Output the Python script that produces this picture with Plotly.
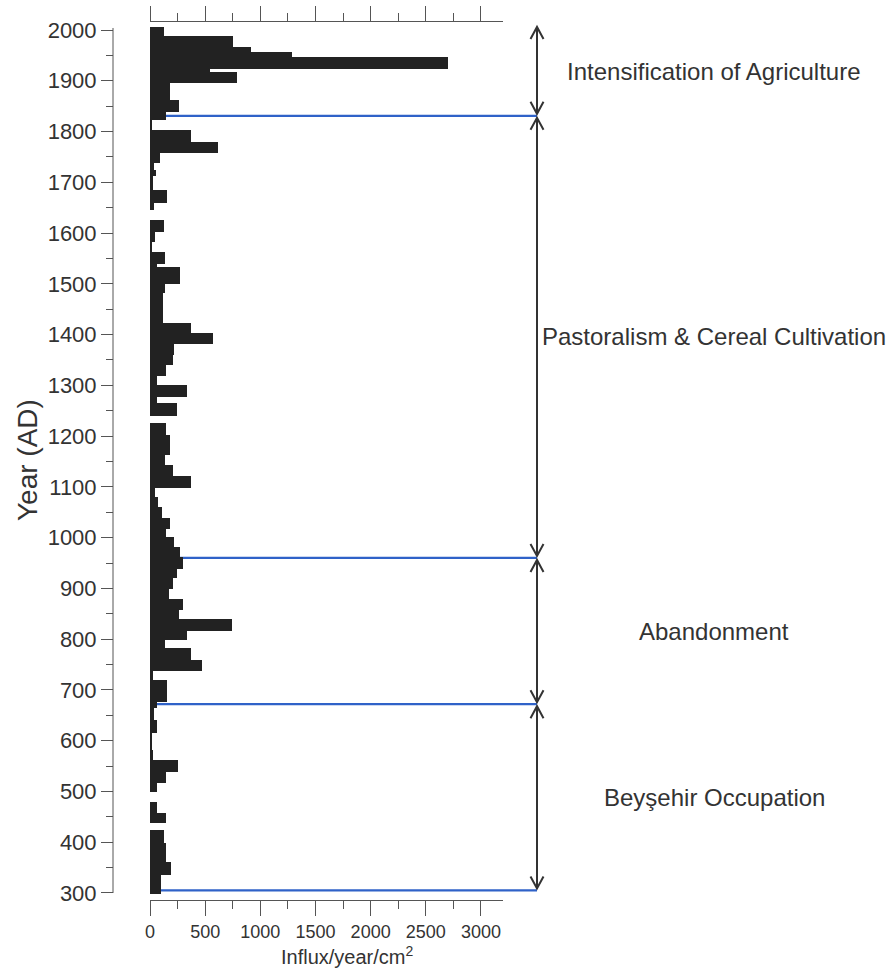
import plotly.graph_objects as go

# ---------------- data ----------------
# bin edges (years AD, from top to bottom) and influx values for each bin
bin_edges = [2006, 1988, 1966, 1956, 1946, 1924, 1918, 1895, 1862, 1839,
             1823, 1803, 1780, 1758, 1739, 1724, 1712, 1701, 1685, 1660,
             1645, 1626, 1603, 1583, 1563, 1540, 1534, 1500, 1481, 1422,
             1404, 1381, 1360, 1340, 1318, 1301, 1278, 1265, 1240, 1225,
             1202, 1163, 1143, 1121, 1097, 1081, 1061, 1038, 1018, 1002,
             982, 962, 939, 920, 898, 880, 857, 839, 817, 798,
             782, 759, 738, 720, 677, 664, 641, 615, 582, 562,
             539, 516, 499, 480, 457, 437, 424, 398, 362, 335, 299]
influx = [127, 755, 912, 1284, 2703, 544, 791, 181, 266, 145,
          20, 368, 619, 91, 36, 55, 30, 25, 151, 36,
          0, 127, 45, 20, 136, 60, 272, 136, 120, 368,
          574, 217, 205, 145, 66, 338, 60, 248, 0, 145,
          178, 136, 211, 368, 45, 75, 106, 181, 145, 217,
          272, 302, 248, 211, 175, 296, 266, 740, 332, 136,
          368, 468, 30, 151, 60, 36, 66, 10, 30, 257,
          145, 60, 0, 60, 145, 0, 127, 145, 187, 97]

period_names = ["Intensification of Agriculture",
                "Pastoralism & Cereal Cultivation",
                "Abandonment",
                "Beyşehir Occupation"]
period_bounds = [2006, 1831, 960, 672, 305]

y_ticks = list(range(300, 2001, 100))
x_ticks = list(range(0, 3001, 500))

# ---------------- layout geometry ----------------
W, H = 891, 980
ML, MR, MT, MB = 113, 388, 22, 80
PW = W - ML - MR            # paper width in px
PH = H - MT - MB
X_DOM0 = (150 - ML) / PW    # where x=0 lies
Y_RANGE = [286.2, 2015.8]
PX_PER_YEAR = PH / (Y_RANGE[1] - Y_RANGE[0])

def px_to_paper_x(px):
    return (px - ML) / PW

def px_to_paper_y(py):
    return (H - MB - py) / PH

ARROW_X = px_to_paper_x(537)
TEXT_X = px_to_paper_x(714)

text_col = "#333333"
axis_col = "#555555"
FONT = "Arial, 'Liberation Sans', sans-serif"

mids = [(bin_edges[i] + bin_edges[i + 1]) / 2 for i in range(len(influx))]
widths = [bin_edges[i] - bin_edges[i + 1] for i in range(len(influx))]

fig = go.Figure()
fig.add_trace(go.Bar(
    orientation="h", y=mids, x=influx, width=widths,
    marker=dict(color="#222222", line=dict(width=0)),
    showlegend=False, hoverinfo="x+y"))

shapes = []
# y axis line
shapes.append(dict(type="line", xref="paper", yref="y", x0=0, x1=0,
                   y0=300, y1=2004, line=dict(color=axis_col, width=1)))
# blue boundary lines
for b in period_bounds[1:]:
    shapes.append(dict(type="line", xref="paper", yref="y",
                       x0=X_DOM0, x1=ARROW_X, y0=b, y1=b,
                       line=dict(color="#2f62c8", width=2.2), layer="below"))
# double-headed arrows
head_h = 12 / PX_PER_YEAR
head_w = 6.5 / PW
gap = 2 / PX_PER_YEAR
for i in range(len(period_names)):
    top = period_bounds[i] - (gap if i > 0 else 0)
    bot = period_bounds[i + 1] + gap
    shapes.append(dict(type="line", xref="paper", yref="y", x0=ARROW_X, x1=ARROW_X,
                       y0=top, y1=bot, line=dict(color=text_col, width=2)))
    shapes.append(dict(type="path", xref="paper", yref="y",
                       path=f"M {ARROW_X-head_w},{top-head_h} L {ARROW_X},{top} L {ARROW_X+head_w},{top-head_h}",
                       line=dict(color=text_col, width=2)))
    shapes.append(dict(type="path", xref="paper", yref="y",
                       path=f"M {ARROW_X-head_w},{bot+head_h} L {ARROW_X},{bot} L {ARROW_X+head_w},{bot+head_h}",
                       line=dict(color=text_col, width=2)))

annotations = []
for i, name in enumerate(period_names):
    annotations.append(dict(text=name, xref="paper", yref="y", x=TEXT_X,
                            y=(period_bounds[i] + period_bounds[i + 1]) / 2,
                            xanchor="center", yanchor="middle", showarrow=False,
                            font=dict(size=24, color=text_col, family=FONT)))
annotations.append(dict(text="Influx/year/cm<sup>2</sup>", xref="paper", yref="paper",
                        x=px_to_paper_x(347), y=px_to_paper_y(955),
                        xanchor="center", yanchor="middle", showarrow=False,
                        font=dict(size=20, color=text_col, family=FONT)))
annotations.append(dict(text="Year (AD)", xref="paper", yref="paper",
                        x=px_to_paper_x(28), y=px_to_paper_y(460),
                        xanchor="center", yanchor="middle", showarrow=False, textangle=-90,
                        font=dict(size=28, color=text_col, family=FONT)))

fig.update_layout(
    width=W, height=H,
    margin=dict(l=ML, r=MR, t=MT, b=MB, pad=0, autoexpand=False),
    paper_bgcolor="white", plot_bgcolor="white",
    font=dict(family=FONT, color=text_col),
    xaxis=dict(domain=[X_DOM0, 1], range=[0, 3200], tickvals=x_ticks,
               automargin=False,
               ticks="outside", ticklen=15, tickwidth=1, tickcolor=axis_col,
               showline=True, linecolor=axis_col, linewidth=1, mirror="ticks",
               minor=dict(ticks="outside", dtick=250, tick0=0, ticklen=8,
                          tickcolor=axis_col, tickwidth=1),
               showgrid=False, zeroline=False,
               tickfont=dict(size=18, color=text_col, family=FONT)),
    yaxis=dict(anchor="free", position=0, range=Y_RANGE, tickvals=y_ticks,
               automargin=False,
               ticks="outside", ticklen=12, tickwidth=1, tickcolor=axis_col,
               minor=dict(ticks="outside", dtick=50, tick0=0, ticklen=7,
                          tickcolor=axis_col, tickwidth=1),
               showline=False, showgrid=False, zeroline=False,
               tickfont=dict(size=22, color=text_col, family=FONT)),
    shapes=shapes, annotations=annotations, bargap=0,
)

fig.write_html("out.html", config={"displayModeBar": False},
               post_script="document.body.style.margin='0';document.body.style.overflow='hidden';")
